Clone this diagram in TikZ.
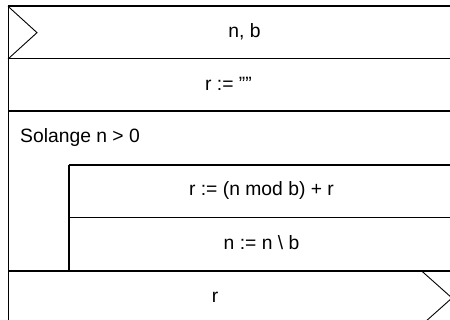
\documentclass[tikz,border=0pt]{standalone}
\usepackage{fontspec}
\setmainfont{Liberation Sans}
\begin{document}
\begin{tikzpicture}[x=1pt,y=-1pt,
  heavy/.style={line width=2pt},
  light/.style={line width=1pt},
  chev/.style={line width=0.9pt, line join=miter},
  lbl/.style={font=\fontsize{19.3}{21}\selectfont, inner sep=0pt, anchor=base}]
\useasboundingbox (0,0) rectangle (450,320);
\clip (0,0) rectangle (450,320);

% corner points of the structogram
\coordinate (tl) at (8,6.3);
\coordinate (tr) at (452,6.3);
\coordinate (bl) at (8,324.7);
\coordinate (br) at (452,324.7);

% outer frame
\draw[heavy] (tl) -- (tr);
\draw[light] (tl) -- (bl);
\draw[light] (tr) -- (br);
\draw[light] (bl) -- (br);

% row separators
\coordinate (s1l) at (8,59);     \coordinate (s1r) at (452,59);
\coordinate (s2l) at (8,111.3);  \coordinate (s2r) at (452,111.3);
\coordinate (s3l) at (69,164.7); \coordinate (s3r) at (452,164.7);
\coordinate (s4l) at (69,217.7); \coordinate (s4r) at (452,217.7);
\coordinate (s5l) at (8,271.3);  \coordinate (s5r) at (452,271.3);
\coordinate (s5m) at (69,271.3);
\draw[light] (s1l) -- (s1r);
\draw[heavy] (s2l) -- (s2r);
\draw[heavy] (s3l) -- (s3r);
\draw[light] (s4l) -- (s4r);
\draw[heavy] (s5l) -- (s5r);
\draw[heavy] (s3l) -- (s5m);

% input and output chevrons
\coordinate (inTip) at (37,32.65);
\draw[chev] (tl) -- (inTip) -- (s1l);
\coordinate (outTop) at (422,271.3);
\coordinate (outTip) at (452,298);
\coordinate (outBot) at (422,324.7);
\draw[chev] (outTop) -- (outTip) -- (outBot);

% texts
\node[lbl] (input)  at (244.5,37.4)  {n, b};
\node[lbl] (init)   at (228.5,90.1)  {r := ""};
\node[lbl, anchor=base west] (loop) at (20,142.5) {Solange n > 0};
\node[lbl] (step1)  at (261.5,196)   {r := (n mod b) + r};
\node[lbl] (step2)  at (261.5,249.3) {n := n \textbackslash{} b};
\node[lbl] (output) at (215,302.8)   {r};
\end{tikzpicture}
\end{document}
